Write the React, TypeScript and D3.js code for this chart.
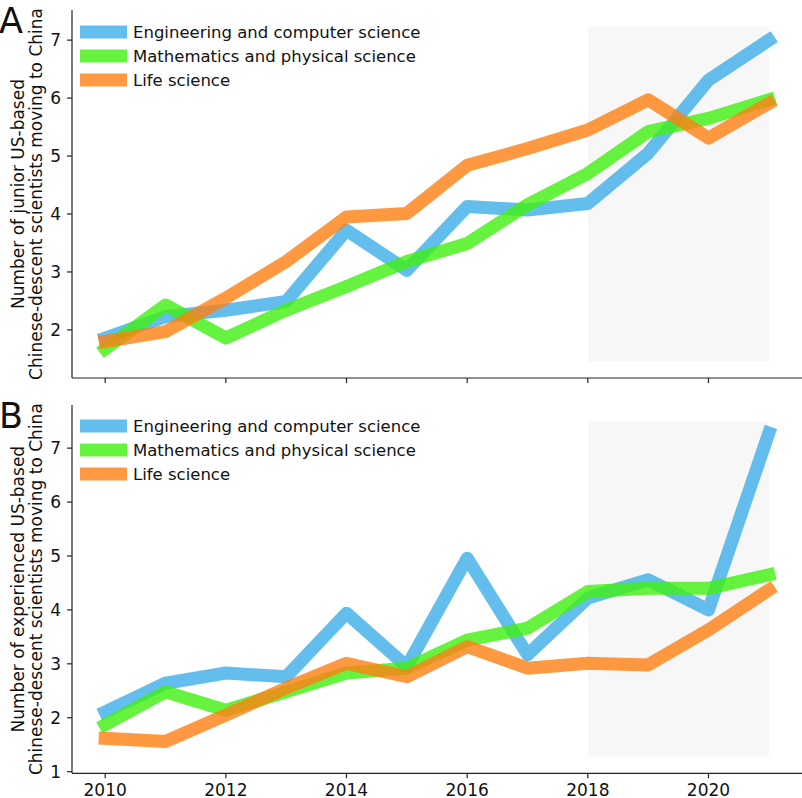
import React from "react";
import * as d3 from "d3";

const years = [2010, 2011, 2012, 2013, 2014, 2015, 2016, 2017, 2018, 2019, 2020, 2021];
const seriesNames = ["Engineering and computer science", "Mathematics and physical science", "Life science"];
const seriesColors = ["#3daee9", "#40f010", "#ff7f12"];

const juniorEng = [1.86, 2.23, 2.34, 2.49, 3.72, 3.03, 4.13, 4.07, 4.18, 5.05, 6.31, 7.0];
const juniorMath = [1.67, 2.43, 1.86, 2.34, 2.75, 3.18, 3.49, 4.16, 4.7, 5.42, 5.65, 5.97];
const juniorLife = [1.8, 1.97, 2.55, 3.18, 3.95, 4.01, 4.84, 5.13, 5.45, 5.97, 5.31, 5.91];

const expEng = [2.11, 2.64, 2.83, 2.76, 3.94, 2.95, 4.96, 3.17, 4.22, 4.56, 4.0, 7.28];
const expMath = [1.87, 2.48, 2.14, 2.48, 2.83, 2.92, 3.44, 3.66, 4.34, 4.4, 4.4, 4.65];
const expLife = [1.62, 1.56, 2.05, 2.55, 3.01, 2.76, 3.32, 2.92, 3.01, 2.98, 3.63, 4.37];

const xTicks = [2010, 2012, 2014, 2016, 2018, 2020];
const juniorYTicks = [2, 3, 4, 5, 6, 7];
const expYTicks = [1, 2, 3, 4, 5, 6, 7];

const FONT = "DejaVu Sans, sans-serif";

type PanelProps = {
  letter: string;
  top: number;
  bottom: number;
  yDomain: [number, number];
  yTicks: number[];
  data: number[][];
  shade: [number, number];
  labelLines: string[];
  showXLabels: boolean;
  legendY: number;
};

function Panel(p: PanelProps) {
  const x = d3.scaleLinear().domain([2009.45, 2021.55]).range([72, 802]);
  const y = d3.scaleLinear().domain(p.yDomain).range([p.bottom, p.top]);
  const line = d3
    .line<number>()
    .x((_, i) => x(years[i]))
    .y((v) => y(v));
  const midY = (p.top + p.bottom) / 2;
  return (
    <g>
      <rect
        x={x(2018)}
        y={y(p.shade[1])}
        width={x(2021) - x(2018)}
        height={y(p.shade[0]) - y(p.shade[1])}
        fill="#f7f7f7"
      />
      {p.data.map((d, i) => (
        <path
          key={i}
          d={line(d) || ""}
          fill="none"
          stroke={seriesColors[i]}
          strokeOpacity={0.8}
          strokeWidth={13}
          strokeLinejoin="round"
          strokeLinecap="square"
        />
      ))}
      <line x1={72} x2={72} y1={p.top} y2={p.bottom} stroke="#222" strokeWidth={1.2} />
      <line x1={72} x2={802} y1={p.bottom} y2={p.bottom} stroke="#222" strokeWidth={1.2} />
      {p.yTicks.map((t) => (
        <g key={t}>
          <line x1={67} x2={72} y1={y(t)} y2={y(t)} stroke="#222" strokeWidth={1.2} />
          <text x={61} y={y(t)} dy="0.36em" textAnchor="end" fontSize={17} fontFamily={FONT} fill="#111">
            {t}
          </text>
        </g>
      ))}
      {xTicks.map((t) => (
        <g key={t}>
          <line x1={x(t)} x2={x(t)} y1={p.bottom} y2={p.bottom + 5} stroke="#222" strokeWidth={1.2} />
          {p.showXLabels && (
            <text x={x(t)} y={p.bottom + 23} textAnchor="middle" fontSize={17} fontFamily={FONT} fill="#111">
              {t}
            </text>
          )}
        </g>
      ))}
      <text
        transform={`translate(18,${midY}) rotate(-90)`}
        textAnchor="middle"
        dy="0.36em"
        fontSize={17}
        fontFamily={FONT}
        fill="#111"
      >
        {p.labelLines[0]}
      </text>
      <text
        transform={`translate(36,${midY}) rotate(-90)`}
        textAnchor="middle"
        dy="0.36em"
        fontSize={17}
        fontFamily={FONT}
        fill="#111"
      >
        {p.labelLines[1]}
      </text>
      <text x={-1} y={p.top + 23} fontSize={35} fontFamily={FONT} fill="#111">
        {p.letter}
      </text>
      {seriesNames.map((n, i) => (
        <g key={n}>
          <rect
            x={80}
            y={p.legendY + i * 24 - 6.5}
            width={47}
            height={13}
            fill={seriesColors[i]}
            fillOpacity={0.8}
          />
          <text x={133} y={p.legendY + i * 24} dy="0.36em" fontSize={16.5} fontFamily={FONT} fill="#111">
            {n}
          </text>
        </g>
      ))}
    </g>
  );
}

export default function App() {
  return (
    <svg
      width={802}
      height={798}
      style={{ position: "absolute", left: 0, top: 0, background: "#fff" }}
    >
      <rect width={802} height={798} fill="#fff" />
      <Panel
        letter="A"
        top={10}
        bottom={378}
        yDomain={[1.17, 7.52]}
        yTicks={juniorYTicks}
        data={[juniorEng, juniorMath, juniorLife]}
        shade={[1.45, 7.23]}
        labelLines={["Number of junior US-based", "Chinese-descent scientists moving to China"]}
        showXLabels={false}
        legendY={32}
      />
      <Panel
        letter="B"
        top={405}
        bottom={773.3}
        yDomain={[0.97, 7.8]}
        yTicks={expYTicks}
        data={[expEng, expMath, expLife]}
        shade={[1.28, 7.49]}
        labelLines={["Number of experienced US-based", "Chinese-descent scientists moving to China"]}
        showXLabels={true}
        legendY={426}
      />
    </svg>
  );
}
